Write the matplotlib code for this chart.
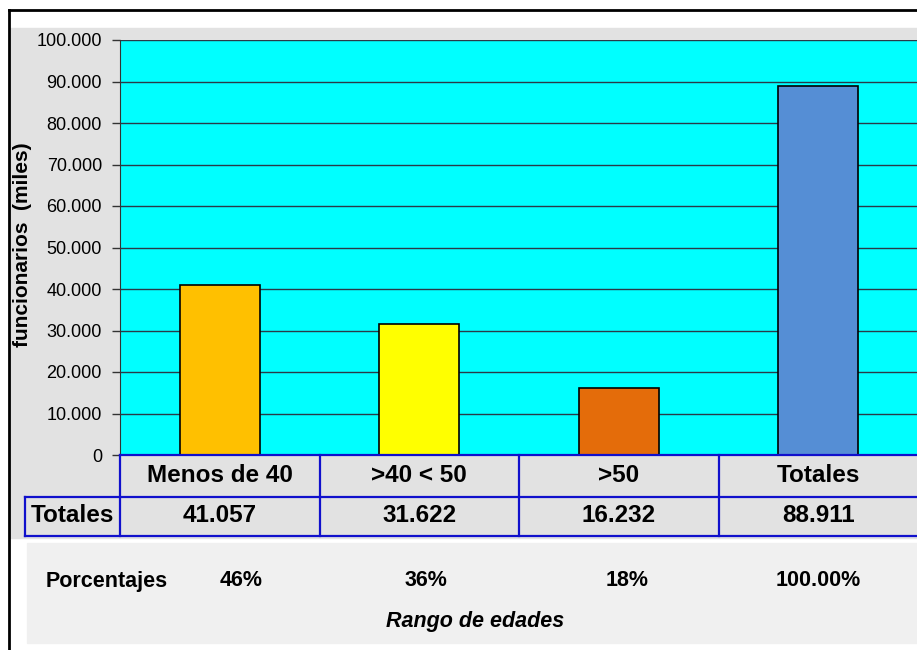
import matplotlib
matplotlib.use("Agg")
import matplotlib.pyplot as plt
import matplotlib.transforms as mtransforms
from matplotlib.lines import Line2D
from matplotlib.patches import Rectangle
from matplotlib.ticker import FuncFormatter

plt.rcParams['font.family'] = ['Liberation Sans', 'DejaVu Sans']

# data
categorias = ['Menos de 40', '>40 < 50', '>50', 'Totales']
totales = [41057, 31622, 16232, 88911]
totales_txt = ['41.057', '31.622', '16.232', '88.911']
porcentajes = ['46%', '36%', '18%', '100.00%']
colores = ['#ffc000', '#ffff00', '#e46c0a', '#558ed5']

W, H = 917, 650
def fx(px):
    return px / W
def fy(py):
    return 1 - py / H

fig = plt.figure(figsize=(W / 100, H / 100), dpi=100)
fig.patch.set_facecolor('white')

# background pieces
fig.patches.append(Rectangle((fx(10), fy(538)), 1 - fx(10), (538 - 28) / H,
                             transform=fig.transFigure, color='#e2e2e2', zorder=-10))
fig.patches.append(Rectangle((fx(27), fy(643)), 1 - fx(27), (643 - 543) / H,
                             transform=fig.transFigure, color='#f0f0f0', zorder=-10))
fig.lines.append(Line2D([fx(9), 1], [fy(10), fy(10)], transform=fig.transFigure,
                        color='black', lw=2))
fig.lines.append(Line2D([fx(9), fx(9)], [fy(10), 0], transform=fig.transFigure,
                        color='black', lw=2))

ax = fig.add_axes([fx(120), fy(455), 798 / W, (455 - 40) / H])
ax.set_facecolor('#00ffff')
x = list(range(len(categorias)))
ax.bar(x, totales, width=0.4, color=colores, edgecolor='black', linewidth=1.2, zorder=3)
ax.set_xlim(-0.5, 3.5)
ax.set_ylim(0, 100000)
ax.set_yticks(range(0, 100001, 10000))
ax.yaxis.set_major_formatter(FuncFormatter(lambda v, p: '{:,}'.format(int(v)).replace(',', '.')))
ax.tick_params(axis='y', labelsize=13, length=6, width=1, pad=7, color='#333333')
ax.set_xticks([])
ax.grid(axis='y', color='#2a3a48', lw=1, zorder=1)
ax.set_axisbelow(True)
for s in ['top', 'right', 'bottom']:
    ax.spines[s].set_visible(False)
ax.spines['left'].set_color('#333333')

fig.text(fx(23), fy(245), 'funcionarios  (miles)', rotation=90, ha='center', va='center',
         weight='bold', size=15)

# data table
trans = mtransforms.blended_transform_factory(ax.transData, fig.transFigure)
azul = '#1010cc'
fig.lines.append(Line2D([-0.5, 3.5], [fy(455), fy(455)], transform=trans, color=azul, lw=1.6))
fig.lines.append(Line2D([fx(25), 1], [fy(497), fy(497)], transform=fig.transFigure, color=azul, lw=1.6))
fig.lines.append(Line2D([fx(25), 1], [fy(536), fy(536)], transform=fig.transFigure, color=azul, lw=1.6))
fig.lines.append(Line2D([fx(25), fx(25)], [fy(497), fy(536)], transform=fig.transFigure, color=azul, lw=1.6))
for b in [-0.5, 0.5, 1.5, 2.5]:
    fig.lines.append(Line2D([b, b], [fy(455), fy(536)], transform=trans, color=azul, lw=1.6))

for i in x:
    fig.text(i, fy(476), categorias[i], transform=trans, ha='center', va='center',
             weight='bold', size=17.5)
    fig.text(i, fy(516), totales_txt[i], transform=trans, ha='center', va='center',
             weight='bold', size=17.5)
fig.text(fx(72), fy(516), 'Totales', ha='center', va='center', weight='bold', size=17.5)

# porcentajes row
desp = [0.105, 0.035, 0.04, 0.0]
fig.text(fx(46), fy(581), 'Porcentajes', ha='left', va='center', weight='bold', size=15.5)
for i in x:
    fig.text(i + desp[i], fy(581), porcentajes[i], transform=trans, ha='center', va='center',
             weight='bold', size=15.5)
fig.text(fx(475), fy(621), 'Rango de edades', ha='center', va='center', weight='bold',
         style='italic', size=15.5)

fig.savefig('out.png', dpi=100)
